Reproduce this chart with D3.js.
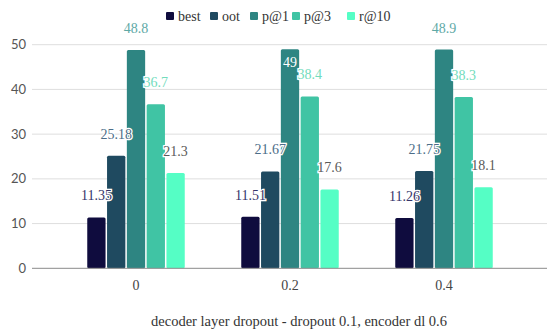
<!DOCTYPE html>
<html>
<head>
<meta charset="utf-8">
<script src="https://cdn.jsdelivr.net/npm/d3@7"></script>
<style>
  html, body { margin: 0; padding: 0; background: #fff; }
  svg { display: block; }
</style>
</head>
<body>
<svg id="chart" width="547" height="329"></svg>
<script>
// Grouped bars: retrieval scores per decoder layer dropout setting
const categories = ["0", "0.2", "0.4"];
const seriesNames = ["best", "oot", "p@1", "p@3", "r@10"];
const best = [11.35, 11.51, 11.26];
const oot  = [25.18, 21.67, 21.75];
const p1   = [48.8, 49, 48.9];
const p3   = [36.7, 38.4, 38.3];
const r10  = [21.3, 17.6, 18.1];
const yTicks = [0, 10, 20, 30, 40, 50];
const xTitle = "decoder layer dropout - dropout 0.1, encoder dl 0.6";

const seriesValues = [best, oot, p1, p3, r10];
const colors = ["#0f0c3e", "#1f4a60", "#2e8582", "#40c4a4", "#55fec5"];
const labelColors = ["#35356a", "#4c6d88", "#5ea9a6", "#72dcbc", "#5a5a5a"];

const svg = d3.select("#chart");
const serif = "'Liberation Serif', 'DejaVu Serif', serif";
const sans = "Lato, 'Open Sans', sans-serif";

const y = d3.scaleLinear().domain([0, 50]).range([268.3, 44.7]);
const x = d3.scaleBand().domain(categories).range([59, 521]);
const groupW = 99;
const xs = d3.scaleBand().domain(seriesNames).range([0, groupW]);
const barW = xs.bandwidth() - 1.5;

// grid
svg.append("g").selectAll("line").data(yTicks.filter(t => t > 0)).join("line")
  .attr("x1", 32).attr("x2", 547)
  .attr("y1", d => y(d)).attr("y2", d => y(d))
  .attr("stroke", "#dedede").attr("stroke-width", 1);

// y tick labels
svg.append("g").selectAll("text").data(yTicks).join("text")
  .attr("x", 26).attr("y", d => y(d)).attr("dy", "0.35em")
  .attr("text-anchor", "end")
  .attr("font-family", sans).attr("font-size", 13).attr("fill", "#555")
  .text(d => d);

// bars
const groups = svg.append("g").selectAll("g").data(categories).join("g")
  .attr("transform", c => `translate(${x(c) + (x.bandwidth() - groupW) / 2},0)`);

const cells = (ci) => seriesNames.map((s, si) => ({ s, si, v: seriesValues[si][ci] }));

groups.each(function (c, ci) {
  const g = d3.select(this);
  g.selectAll("rect").data(cells(ci)).join("rect")
    .attr("x", d => xs(d.s) + 0.75)
    .attr("y", d => y(d.v))
    .attr("width", barW)
    .attr("height", d => y(0) - y(d.v))
    .attr("rx", 1.5)
    .attr("fill", d => colors[d.si]);
});

// axis baseline
svg.append("line").attr("x1", 32).attr("x2", 547)
  .attr("y1", y(0)).attr("y2", y(0))
  .attr("stroke", "#8a8a8a").attr("stroke-width", 1);

// value labels
groups.each(function (c, ci) {
  const g = d3.select(this);
  g.selectAll("text.val").data(cells(ci)).join("text")
    .attr("class", "val")
    .attr("x", d => xs(d.s) + xs.bandwidth() / 2)
    .attr("y", d => {
      // the tallest label that would hit the legend is tucked inside its bar
      const inside = d.v >= 49;
      return inside ? y(d.v) + 13 : y(d.v) - 22;
    })
    .attr("dy", "0.35em")
    .attr("text-anchor", "middle")
    .attr("font-family", serif).attr("font-size", 14)
    .attr("fill", d => d.v >= 49 ? "#ffffff" : labelColors[d.si])
    .attr("stroke", d => d.v >= 49 ? "none" : "#ffffff")
    .attr("stroke-width", 2.5)
    .attr("paint-order", "stroke")
    .text(d => d.v);
});

// x tick labels
svg.append("g").selectAll("text").data(categories).join("text")
  .attr("x", d => x(d) + x.bandwidth() / 2).attr("y", 285).attr("dy", "0.35em")
  .attr("text-anchor", "middle")
  .attr("font-family", serif).attr("font-size", 14).attr("fill", "#444")
  .text(d => d);

// x axis title
svg.append("text").attr("x", 299).attr("y", 326)
  .attr("text-anchor", "middle")
  .attr("font-family", serif).attr("font-size", 14.5).attr("fill", "#333")
  .text(xTitle);

// legend
const legendX = [166, 210, 250, 292, 347];
const legend = svg.append("g").selectAll("g").data(seriesNames).join("g")
  .attr("transform", (d, i) => `translate(${legendX[i]},16)`);
legend.append("rect").attr("x", 0).attr("y", -4).attr("width", 8).attr("height", 8)
  .attr("rx", 1).attr("fill", (d, i) => colors[i]);
legend.append("text").attr("x", 12).attr("y", 0).attr("dy", "0.35em")
  .attr("font-family", serif).attr("font-size", 14).attr("fill", "#333")
  .text(d => d);
</script>
</body>
</html>
